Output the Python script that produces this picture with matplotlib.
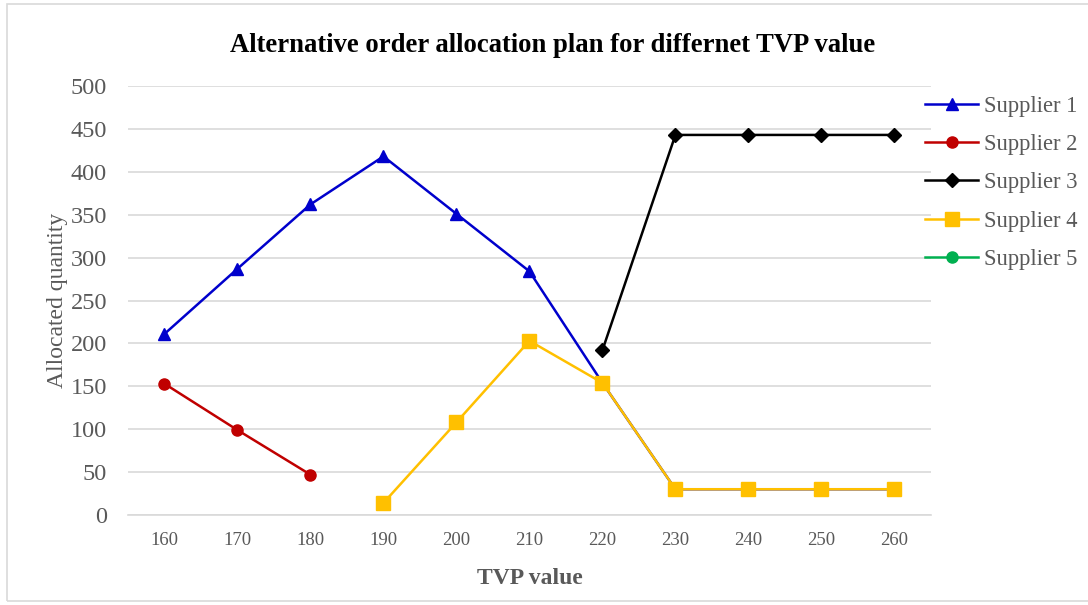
import matplotlib.pyplot as plt
import numpy as np
from matplotlib.patches import Rectangle

# TVP values (category axis)
tvp = ['160', '170', '180', '190', '200', '210', '220', '230', '240', '250', '260']

nan = np.nan
supplier1 = [211, 287, 362, 418, 351, 284, 154, 30, 30, 30, 30]
supplier2 = [153, 99, 47, nan, nan, nan, nan, nan, nan, nan, nan]
supplier3 = [nan, nan, nan, nan, nan, nan, 192, 443, 443, 443, 443]
supplier4 = [nan, nan, nan, 14, 108, 203, 154, 30, 30, 30, 30]
supplier5 = [nan] * 11

plt.rcParams['font.family'] = ['Liberation Serif', 'DejaVu Serif']

fig = plt.figure(figsize=(10.88, 6.05), dpi=100)
ax = fig.add_axes([0.1176, 0.1488, 0.738, 0.709])

# light frame around the chart area (right side runs off the image)
fig.patches.append(Rectangle((0.006, 0.006), 1.0, 0.988, transform=fig.transFigure,
                             fill=False, edgecolor='#d9d9d9', linewidth=1.2))

x = np.arange(len(tvp))
lw = 1.8
ax.plot(x, supplier1, color='#0000CC', marker='^', markersize=9, linewidth=lw, label='Supplier 1', zorder=3)
ax.plot(x, supplier2, color='#C00000', marker='o', markersize=8, linewidth=lw, label='Supplier 2', zorder=3)
ax.plot(x, supplier3, color='black', marker='D', markersize=7, linewidth=lw, label='Supplier 3', zorder=3)
ax.plot(x, supplier4, color='#FFC000', marker='s', markersize=10, linewidth=lw, label='Supplier 4', zorder=4)
ax.plot(x, supplier5, color='#00B050', marker='o', markersize=8, linewidth=lw, label='Supplier 5', zorder=3)

ax.set_xlim(-0.5, len(tvp) - 0.5)
ax.set_ylim(0, 500)
ax.set_yticks(range(0, 501, 50))
ax.set_xticks(x)
ax.set_xticklabels(tvp)
ax.yaxis.grid(True, color='#d9d9d9', linewidth=1.2)
ax.set_axisbelow(True)
for s in ['top', 'right', 'left']:
    ax.spines[s].set_visible(False)
ax.spines['bottom'].set_color('#d9d9d9')
ax.spines['bottom'].set_linewidth(1.2)
ax.tick_params(axis='both', length=0, colors='#595959')
ax.tick_params(axis='y', labelsize=17.5, pad=15)
ax.tick_params(axis='x', labelsize=13.5, pad=12)

ax.set_xlabel('TVP value', fontsize=17, fontweight='bold', color='#595959', labelpad=14)
ax.set_ylabel('Allocated quantity', fontsize=17, color='#595959', labelpad=2)
fig.suptitle('Alternative order allocation plan for differnet TVP value',
             x=0.508, y=0.945, fontsize=19.2, fontweight='bold', color='black')

leg = ax.legend(loc='upper left', bbox_to_anchor=(0.982, 0.998), frameon=False,
                fontsize=16.3, labelcolor='#595959', handlelength=2.3,
                handletextpad=0.3, labelspacing=0.76, borderaxespad=0)

fig.savefig('out.png', dpi=100)
